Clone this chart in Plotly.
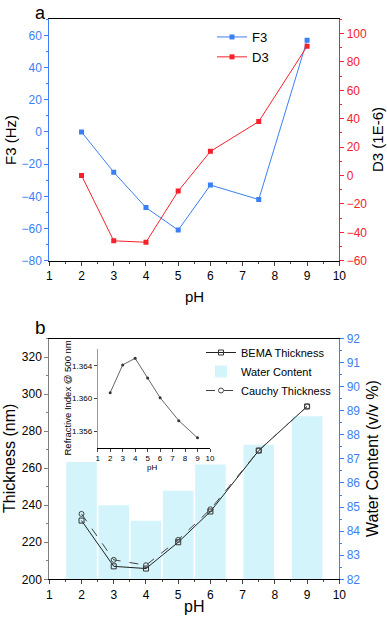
import plotly.graph_objects as go

# Panel a data
ph_a = [2, 3, 4, 5, 6, 7.5, 9]
f3 = [0, -25, -47, -61, -33, -42, 57]
d3 = [0, -46, -47, -11, 17, 38, 91]

# Panel b data
ph_b = [2, 3, 4, 5, 6, 7.5, 9]
water = [86.87, 85.08, 84.43, 85.68, 86.77, 87.59, 88.77]
bema = [231.7, 207.0, 205.8, 220.0, 236.6, 269.5, 293.3]
cauchy = [235.3, 210.5, 207.6, 221.3, 237.8, 269.5, 293.3]

# Inset data
ph_in = [2, 3, 4, 5, 6, 7.5, 9]
ri = [1.3607, 1.3641, 1.3649, 1.3625, 1.3601, 1.3573, 1.3552]

BLUE = "#3b7ff5"
RED = "#f5222d"
FONT = "Arial, Liberation Sans, sans-serif"
W, H = 387, 625

def px_x(p):
    return p / W

def px_y(p):
    return 1 - p / H

fig = go.Figure()

# Panel a
fig.add_trace(go.Scatter(x=ph_a, y=f3, name="F3", mode="lines+markers",
                         line=dict(color=BLUE, width=1), marker=dict(symbol="square", size=5, color=BLUE),
                         xaxis="x", yaxis="y", legend="legend"))
fig.add_trace(go.Scatter(x=ph_a, y=d3, name="D3", mode="lines+markers",
                         line=dict(color=RED, width=1), marker=dict(symbol="square", size=5, color=RED),
                         xaxis="x", yaxis="y2", legend="legend"))

# Panel b: lines on overlay axis (y4, drawn on top), bars on base axis (y3)
fig.add_trace(go.Scatter(x=ph_b, y=bema, name="BEMA Thickness", mode="lines+markers",
                         line=dict(color="#222222", width=1),
                         marker=dict(symbol="square-open", size=5, color="#333333", line=dict(width=1)),
                         xaxis="x2", yaxis="y4", legend="legend2"))
fig.add_trace(go.Bar(x=ph_b, y=water, name="Water Content", width=0.95, base=0,
                     marker=dict(color="#d3f4fb", line=dict(width=0)),
                     xaxis="x2", yaxis="y3", legend="legend2"))
fig.add_trace(go.Scatter(x=ph_b, y=cauchy, name="Cauchy Thickness", mode="lines+markers",
                         line=dict(color="#444444", width=1, dash="dash"),
                         marker=dict(symbol="circle-open", size=5, color="#444444", line=dict(width=1)),
                         xaxis="x2", yaxis="y4", legend="legend2"))

# Inset
fig.add_trace(go.Scatter(x=ph_in, y=ri, mode="lines+markers", showlegend=False,
                         line=dict(color="#666666", width=1), marker=dict(size=3, color="#333333"),
                         xaxis="x3", yaxis="y5"))

dom_x = [px_x(49.3), px_x(339.3)]
dom_a = [px_y(260.7), px_y(19.3)]
dom_b = [px_y(579.3), px_y(338.5)]

common_ax = dict(showgrid=False, zeroline=False, ticks="outside", linewidth=1,
                 tickfont=dict(size=12, family=FONT), showline=True, automargin=False)

def label(text, x, y, size, angle=0, color="black"):
    return dict(text=text, x=px_x(x), y=px_y(y), xref="paper", yref="paper",
                showarrow=False, font=dict(size=size, color=color), textangle=angle,
                xanchor="center", yanchor="middle")

fig.update_layout(
    width=W, height=H, margin=dict(l=0, r=0, t=0, b=0),
    paper_bgcolor="white", plot_bgcolor="white",
    font=dict(family=FONT, color="black"),
    barmode="overlay",
    xaxis=dict(domain=dom_x, anchor="y", range=[1, 10], dtick=1, **common_ax,
               linecolor="black", mirror=True, ticklen=4,
               minor=dict(ticks="outside", ticklen=2, dtick=0.5)),
    yaxis=dict(domain=dom_a, anchor="x", range=[-80, 70], dtick=20, **common_ax,
               linecolor=BLUE, color=BLUE, ticklen=4,
               minor=dict(ticks="outside", ticklen=2, dtick=10, tickcolor=BLUE)),
    yaxis2=dict(overlaying="y", side="right", anchor="x", range=[-60, 110], dtick=20, **common_ax,
                linecolor=RED, color=RED, ticklen=4,
                minor=dict(ticks="outside", ticklen=2, dtick=10, tickcolor=RED)),
    xaxis2=dict(domain=dom_x, anchor="y3", range=[1, 10], dtick=1, **common_ax,
                linecolor="black", mirror=True, ticklen=4,
                minor=dict(ticks="outside", ticklen=2, dtick=0.5)),
    yaxis3=dict(domain=dom_b, anchor="x2", side="right", range=[82, 92], dtick=1, **common_ax,
                linecolor=BLUE, color=BLUE, ticklen=4,
                minor=dict(ticks="outside", ticklen=2, dtick=0.5, tickcolor=BLUE)),
    yaxis4=dict(overlaying="y3", side="left", anchor="x2", range=[200, 330], dtick=20, **common_ax,
                linecolor="#808080", tickcolor="#808080", ticklen=4,
                minor=dict(ticks="outside", ticklen=2, dtick=10, tickcolor="#808080")),
    xaxis3=dict(domain=[px_x(97.7), px_x(210)], anchor="y5", range=[1, 10], dtick=1,
                showgrid=False, zeroline=False, showline=True, linecolor="black", linewidth=1,
                ticks="outside", ticklen=3, tickfont=dict(size=8), automargin=False),
    yaxis5=dict(domain=[px_y(447.7), px_y(349.3)], anchor="x3", range=[1.354, 1.366],
                tickvals=[1.356, 1.360, 1.364], ticktext=["1.356", "1.360", "1.364"],
                showgrid=False, zeroline=False, showline=True, linecolor="#999999", linewidth=1,
                ticks="outside", ticklen=3, tickfont=dict(size=8), automargin=False),
    legend=dict(x=px_x(212), y=px_y(22), xanchor="left", yanchor="top", itemwidth=30,
                bgcolor="rgba(0,0,0,0)", font=dict(size=13), tracegroupgap=0),
    legend2=dict(x=px_x(201), y=px_y(338), xanchor="left", yanchor="top", itemwidth=30,
                 bgcolor="rgba(0,0,0,0)", font=dict(size=11), tracegroupgap=0),
    annotations=[
        label("a", 40, 12.5, 18),
        label("b", 40, 327, 19),
        label("F3 (Hz)", 11, 140, 15, -90),
        label("D3 (1E-6)", 378, 140, 15, -90),
        label("pH", 194, 296, 15),
        label("Thickness (nm)", 9, 459, 16, -90),
        label("Water Content (v/v %)", 372, 459, 16, -90),
        label("pH", 194, 606, 16),
        label("Refractive Index @ 500 nm", 67, 398.5, 9.5, -90),
        label("pH", 152, 467, 8),
    ],
)

fig.write_html("out.html", config={"displayModeBar": False},
               post_script="document.body.style.margin='0';")
